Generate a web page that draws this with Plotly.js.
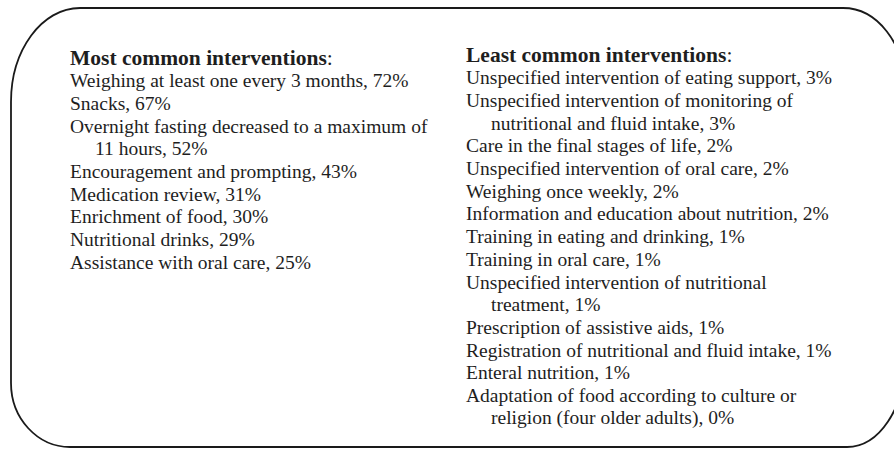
<!DOCTYPE html>
<html>
<head>
<meta charset="utf-8">
<script src="https://cdn.plot.ly/plotly-3.0.1.min.js"></script>
<style>html,body{margin:0;padding:0;background:#fff;}#chart{width:894px;height:449px;}</style>
</head>
<body>
<div id="chart"></div>
<script>
// ---- data ----
var mostTitle = "Most common interventions";
var mostItems = [
  "Weighing at least one every 3 months",
  "Snacks",
  "Overnight fasting decreased to a maximum of|11 hours",
  "Encouragement and prompting",
  "Medication review",
  "Enrichment of food",
  "Nutritional drinks",
  "Assistance with oral care"
];
var mostPct = [72, 67, 52, 43, 31, 30, 29, 25];

var leastTitle = "Least common interventions";
var leastItems = [
  "Unspecified intervention of eating support",
  "Unspecified intervention of monitoring of|nutritional and fluid intake",
  "Care in the final stages of life",
  "Unspecified intervention of oral care",
  "Weighing once weekly",
  "Information and education about nutrition",
  "Training in eating and drinking",
  "Training in oral care",
  "Unspecified intervention of nutritional|treatment",
  "Prescription of assistive aids",
  "Registration of nutritional and fluid intake",
  "Enteral nutrition",
  "Adaptation of food according to culture or|religion (four older adults)"
];
var leastPct = [3, 3, 2, 2, 2, 2, 1, 1, 1, 1, 1, 1, 0];

// ---- layout helpers ----
var W = 894, H = 449;
var LINE = 22.7;
var textColor = "#1e1e1e";
var fontFam = "Liberation Serif";
var fontSize = 19.5;
var headSize = 21.5;

function buildLines(title, items, pcts) {
  var out = [{text: "<b>" + title + "</b>:", indent: false, head: true}];
  items.forEach(function (it, k) {
    var parts = it.split("|");
    parts.forEach(function (p, j) {
      var t = p + (j === parts.length - 1 ? ", " + pcts[k] + "%" : "");
      out.push({text: t, indent: j > 0, head: false});
    });
  });
  return out;
}

var cols = [
  {lines: buildLines(mostTitle, mostItems, mostPct), x: 69, dy: 0},
  {lines: buildLines(leastTitle, leastItems, leastPct), x: 465, dy: -0.13}
];
var INDENT = 25;

var annotations = [];
cols.forEach(function (c) {
  c.lines.forEach(function (ln, i) {
    annotations.push({
      x: c.x + (ln.indent ? INDENT : 0), y: i + c.dy,
      xref: "x", yref: "y", xanchor: "left", yanchor: "middle",
      showarrow: false, text: ln.text, borderpad: 0,
      font: {family: fontFam, size: ln.head ? headSize : fontSize, color: textColor}
    });
  });
});

// rounded box in pixel coords -> paper
function P(x, y) { return (x / W).toFixed(5) + "," + (1 - y / H).toFixed(5); }
var k = 0.5523;
var L = 11, T = 8, R = 905, B = 447;
var tl = {rx: 69, ry: 94}, tr = {rx: 62, ry: 80}, br = {rx: 58, ry: 87}, bl = {rx: 59, ry: 64};
var path =
  "M" + P(L + tl.rx, T) +
  " L" + P(R - tr.rx, T) +
  " C" + P(R - tr.rx + k * tr.rx, T) + " " + P(R, T + tr.ry - k * tr.ry) + " " + P(R, T + tr.ry) +
  " L" + P(R, B - br.ry) +
  " C" + P(R, B - br.ry + k * br.ry) + " " + P(R - br.rx + k * br.rx, B) + " " + P(R - br.rx, B) +
  " L" + P(L + bl.rx, B) +
  " C" + P(L + bl.rx - k * bl.rx, B) + " " + P(L, B - bl.ry + k * bl.ry) + " " + P(L, B - bl.ry) +
  " L" + P(L, T + tl.ry) +
  " C" + P(L, T + tl.ry - k * tl.ry) + " " + P(L + tl.rx - k * tl.rx, T) + " " + P(L + tl.rx, T) + " Z";

var firstY = 58;
var layout = {
  width: W, height: H,
  margin: {l: 0, r: 0, t: 0, b: 0},
  paper_bgcolor: "#ffffff", plot_bgcolor: "#ffffff",
  showlegend: false,
  font: {family: fontFam},
  xaxis: {range: [0, W], visible: false, fixedrange: true},
  yaxis: {range: [(H - firstY) / LINE, -firstY / LINE], visible: false, fixedrange: true},
  shapes: [{type: "path", xref: "paper", yref: "paper", path: path,
            line: {color: "#1a1a1a", width: 1.8}, fillcolor: "rgba(0,0,0,0)"}],
  annotations: annotations
};

Plotly.newPlot("chart", [{x: [], y: [], type: "scatter", hoverinfo: "skip"}], layout,
  {staticPlot: true, displayModeBar: false});
</script>
</body>
</html>
